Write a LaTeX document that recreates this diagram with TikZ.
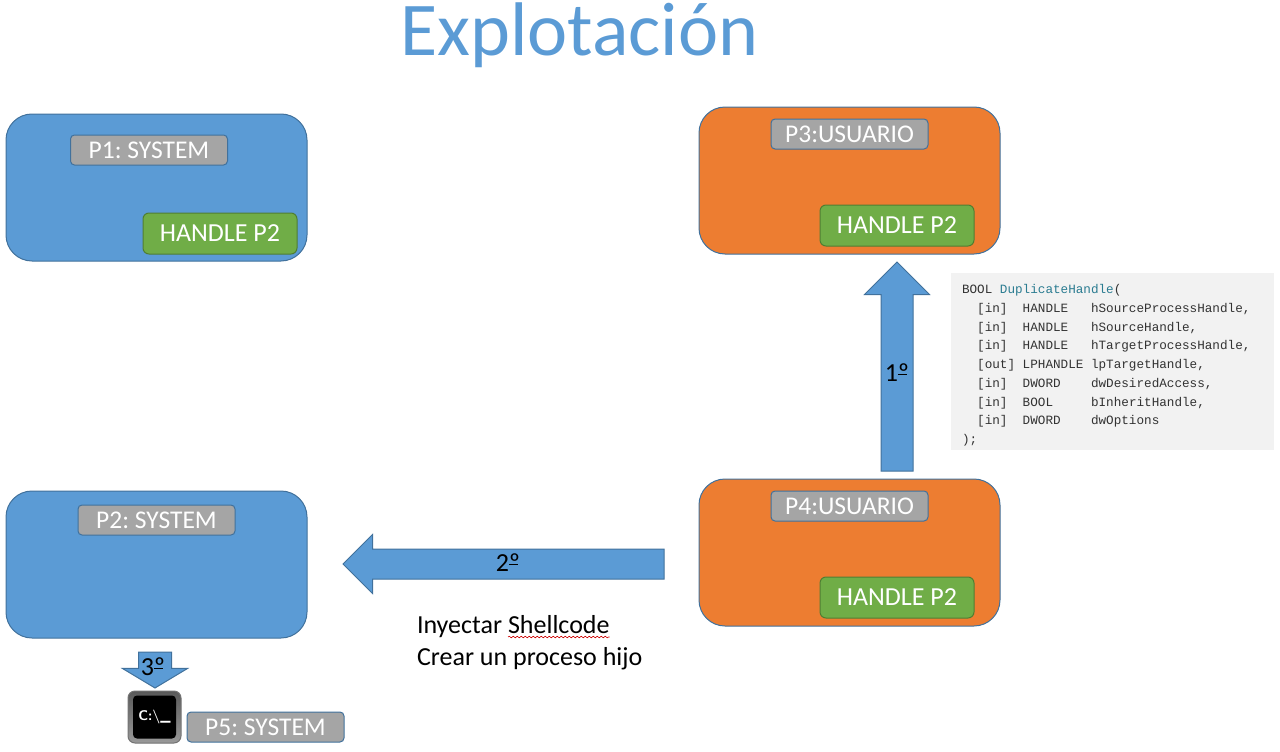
\documentclass[tikz,border=0pt]{standalone}
\usepackage{fontspec}
\setmainfont{Carlito}
\newfontfamily\codefont{Liberation Mono}
\usepackage{tikz}
\usetikzlibrary{positioning, shapes.arrows, decorations.pathmorphing}

\definecolor{procblue}{HTML}{5B9BD5}
\definecolor{procorange}{HTML}{ED7D31}
\definecolor{edgeblue}{HTML}{41719C}
\definecolor{labelgray}{HTML}{A5A5A5}
\definecolor{handlegreen}{HTML}{70AD47}
\definecolor{edgegreen}{HTML}{507E32}
\definecolor{codeback}{HTML}{F2F2F2}
\definecolor{codeteal}{HTML}{2B7C91}

\newcommand{\ordmark}{\rlap{\rule[7pt]{0.36em}{1.2pt}}º}

\begin{document}
\frenchspacing
\begin{tikzpicture}[
		x=1pt,
		y=-1pt,
		line width=1pt,
		outer sep=0pt,
		proc/.style={
			rectangle,
			rounded corners=26pt,
			draw=edgeblue,
			minimum width=301pt,
			minimum height=147pt
		},
		sysproc/.style={
			proc,
			fill=procblue
		},
		userproc/.style={
			proc,
			fill=procorange
		},
		namebox/.style={
			rectangle,
			rounded corners=4pt,
			draw=edgeblue,
			fill=labelgray,
			text=white,
			font=\fontsize{25.5}{28}\selectfont,
			inner sep=0pt,
			minimum width=157pt,
			minimum height=30pt
		},
		handlebox/.style={
			rectangle,
			rounded corners=6pt,
			draw=edgegreen,
			fill=handlegreen,
			text=white,
			font=\fontsize{26}{28}\selectfont,
			inner sep=0pt,
			minimum width=154pt,
			minimum height=41pt
		},
		blockarrow/.style={
			single arrow,
			draw=edgeblue,
			fill=procblue,
			inner sep=0pt,
			anchor=tail
		},
		steplabel/.style={
			font=\fontsize{26}{28}\selectfont,
			text=black,
			inner sep=0pt
		},
		plain/.style={
			font=\fontsize{26}{30}\selectfont,
			text=black,
			inner sep=0pt,
			anchor=base west
		},
		codeline/.style={
			font=\codefont\fontsize{12.65}{15}\selectfont,
			text=black!80,
			inner sep=0pt,
			anchor=base west
		}
		]
		
		\useasboundingbox (0,0) rectangle (1280,752);
		
		\node[font=\fontsize{76}{90}\selectfont, text=procblue, inner sep=0pt, anchor=base] (title) at (579.5,55.5) {Explotación};
		
		\node[sysproc] (p1) at (156.5,187.5) {};
		\node[userproc] (p3) at (849.5,180.5) {};
		\node[sysproc] (p2) at (156.5,564.5) {};
		\node[userproc] (p4) at (849.5,552.5) {};
		
		\node[namebox, below=21pt of p1.north, xshift=-7.5pt] (p1name) {P1: SYSTEM};
		\node[namebox, below=12pt of p3.north] (p3name) {P3:USUARIO};
		\node[namebox, below=14pt of p2.north] (p2name) {P2: SYSTEM};
		\node[namebox, below=12pt of p4.north] (p4name) {P4:USUARIO};
		
		\node[handlebox, above left=7pt and 10pt of p1.south east] (p1handle) {HANDLE P2};
		\node[handlebox, above left=8pt and 26pt of p3.south east] (p3handle) {HANDLE P2};
		\node[handlebox, above left=8pt and 26pt of p4.south east] (p4handle) {HANDLE P2};
		
		\node[blockarrow, shape border rotate=90, minimum height=209pt, minimum width=64pt, single arrow head extend=16.5pt] (first) at (897,471) {\hspace*{31pt}};
		\node[steplabel] (firstlabel) at (897,373) {1\ordmark};
		
		\node[blockarrow, shape border rotate=180, minimum height=321pt, minimum width=58pt, single arrow head extend=14.5pt] (second) at (664,564) {\rule{0pt}{29pt}};
		\node[steplabel] (secondlabel) at (508,563) {2\ordmark};
		
		\node[blockarrow, shape border rotate=270, minimum height=36pt, minimum width=64pt, single arrow head extend=16pt, single arrow tip angle=118] (third) at (155,652) {\hspace*{32pt}};
		\node[steplabel] (thirdlabel) at (153,667) {3\ordmark};
		
		% console icon
		\node[rectangle, rounded corners=7pt, draw=black!55, top color=black!65, bottom color=black!40, minimum width=53pt, minimum height=52pt, inner sep=0pt] (console) at (154.5,717) {};
		\node[rectangle, rounded corners=4pt, fill=black, text=white, font=\sffamily\bfseries\fontsize{14}{16}\selectfont, minimum width=43pt, minimum height=43pt, inner sep=0pt] (prompt) at (console) {C:\textbackslash\_};
		\node[namebox, right=6pt of console.south east, anchor=south west, yshift=1pt] (p5name) {P5: SYSTEM};
		
		% code box
		\node[rectangle, fill=codeback, minimum width=323pt, minimum height=177pt] (codebox) at (1112.5,361.5) {};
		\node[codeline] (code0) at (962,293) {BOOL \textcolor{codeteal}{DuplicateHandle}(};
		\node[codeline] (code1) at (962,312) {\ \ [in]\ \ HANDLE\ \ \ hSourceProcessHandle,};
		\node[codeline] (code2) at (962,331) {\ \ [in]\ \ HANDLE\ \ \ hSourceHandle,};
		\node[codeline] (code3) at (962,349.5) {\ \ [in]\ \ HANDLE\ \ \ hTargetProcessHandle,};
		\node[codeline] (code4) at (962,368) {\ \ [out] LPHANDLE lpTargetHandle,};
		\node[codeline] (code5) at (962,387) {\ \ [in]\ \ DWORD\ \ \ \ dwDesiredAccess,};
		\node[codeline] (code6) at (962,406) {\ \ [in]\ \ BOOL\ \ \ \ \ bInheritHandle,};
		\node[codeline] (code7) at (962,424.5) {\ \ [in]\ \ DWORD\ \ \ \ dwOptions};
		\node[codeline] (code8) at (962,443) {);};
		
		\node[plain] (inject) at (417,633) {Inyectar};
		\node[plain, right=6pt of inject.base east, anchor=base west] (shell) {Shellcode};
		\node[plain] (child) at (417,665) {Crear un proceso hijo};
		\draw[red!80!black, line width=0.6pt, decorate, decoration={snake, amplitude=0.8pt, segment length=4pt}] ([yshift=-4pt]shell.base west) -- ([yshift=-4pt]shell.base east);
		
	\end{tikzpicture}
\end{document}
